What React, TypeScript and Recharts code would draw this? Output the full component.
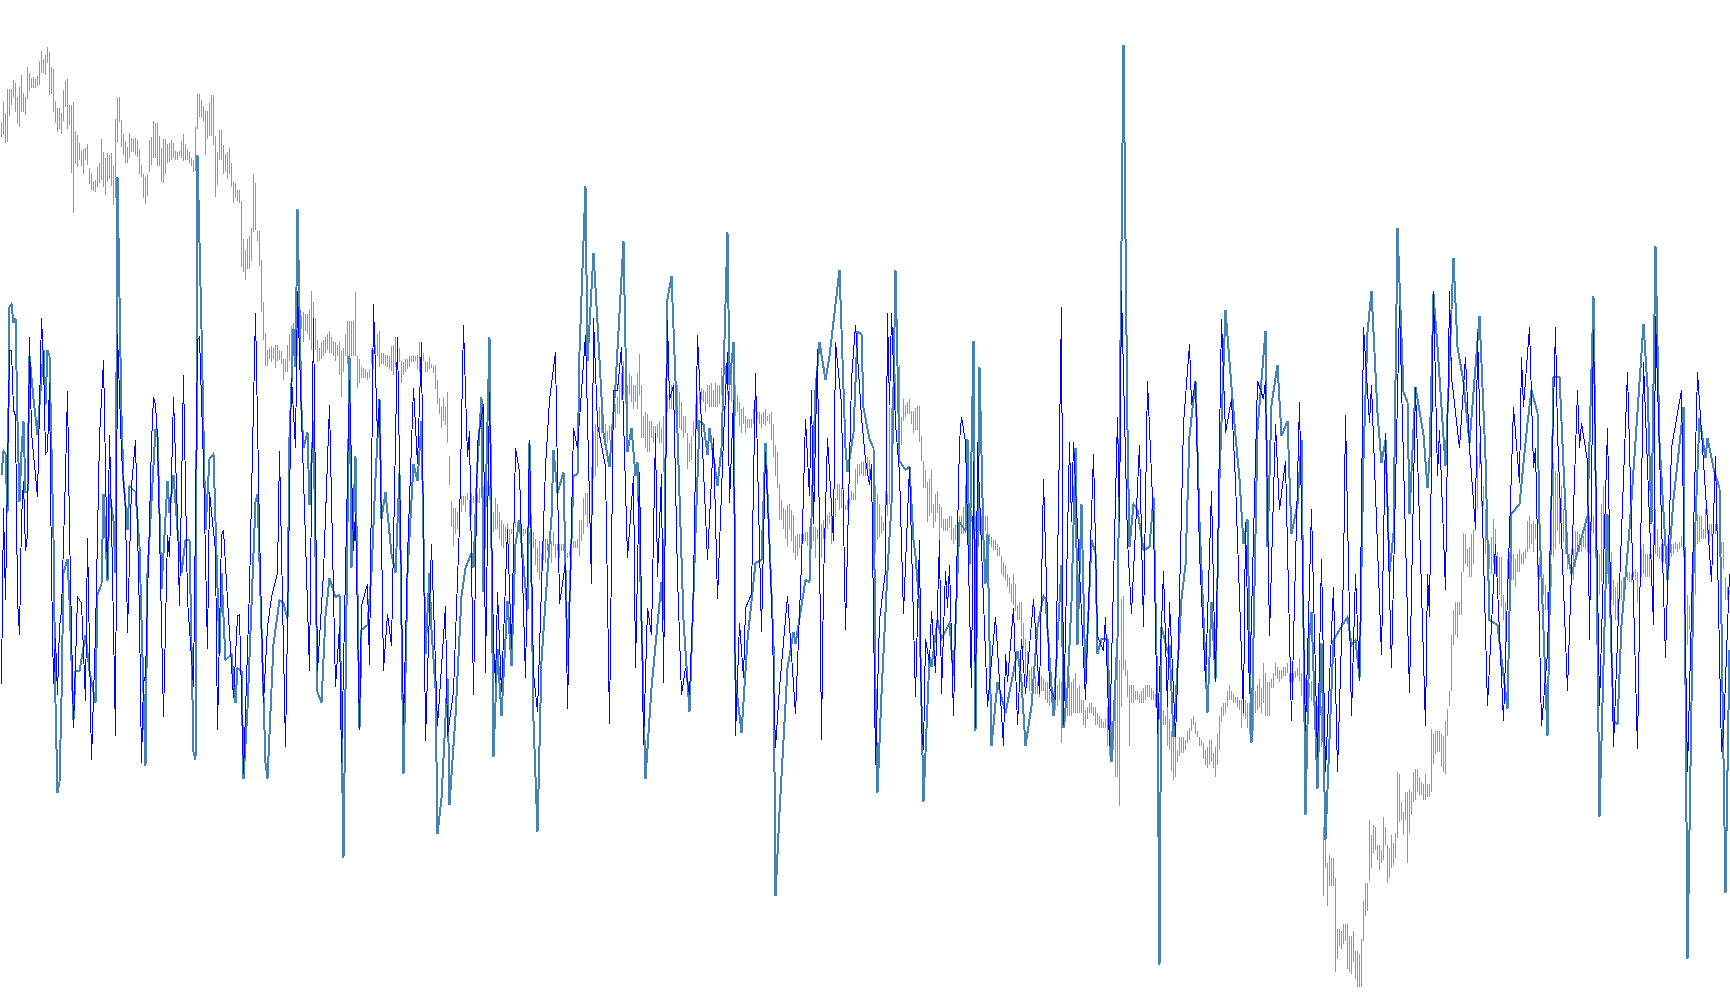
import { ComposedChart, Bar, Line, XAxis, YAxis } from 'recharts';

// green band: [high, low] for each sample, split by stretch of the chart
const bandA = [
  [883,868],[903,870],[892,862],[916,863],[916,889],[916,900],[925,908],[922,893],[908,881],[918,878],
  [930,893],[912,893],[908,890],[938,906],[932,914],[927,917],[928,917],[926,917],[929,919],[944,920],
  [954,932],[946,932],[950,930],[958,942],[953,910],[938,911],[936,893],[904,882],[897,873],[897,876],
  [892,871],[915,884],[924,898],[926,876],[900,880],[900,832],[903,792],[874,841],[870,838],[862,845],
  [854,839],[856,831],[857,845],[861,840],[837,821],[832,815],[824,814],[825,813],[838,818],[842,822],
  [866,825],[853,818],[847,810],[852,823],[850,826],[852,819],[839,800],[886,807],[907,862],[908,883],
  [885,858],[871,850],[864,842],[858,842],[872,847],[867,853],[866,853],[867,850],[865,848],[856,831],
  [840,828],[831,807],[828,801],[831,809],[865,833],[868,840],[884,847],[882,847],[882,839],[869,839],
  [857,823],[866,822],[866,831],[861,842],[862,843],[865,845],[862,847],[854,845],[853,845],[854,849],
  [864,847],[871,844],[861,845],[856,845],[853,842],[847,839],[845,833],[878,834],[911,876],[911,888],
  [905,887],[899,883],[894,850],[894,866],[902,869],[910,869],[910,860],[869,808],[853,820],[875,845],
  [875,845],[860,831],[851,833],[853,826],[857,831],[842,818],[823,802],[822,807],[815,804],[815,802],
  [804,738],[766,733],[755,725],[766,736],[769,736],[777,744],[831,773],[822,775],[774,764],[774,739],
  [745,693],[703,665],[672,639],[655,639],[657,646],[659,643],[657,646],[660,637],[660,644],[655,645],
  [654,641],[646,625],[646,633],[660,633],[671,644],[679,636],[682,649],[687,644],[687,649],[682,647],
  [690,676],[693,663],[691,674],[691,671],[695,665],[714,655],[703,671],[687,655],[665,643],[657,644],
  [663,646],[665,649],[668,652],[671,655],[674,652],[668,652],[664,649],[663,644],[660,649],[663,630],
  [655,608],[657,633],[671,649],[684,641],[684,646],[684,649],[684,649],[713,649],[649,617],[646,622],
  [638,627],[637,627],[636,627],[633,625],[636,627],[655,641],[655,636],[660,649],[671,649],[674,638],
  [652,641],[652,641],[650,639],[650,638],[649,636],[659,634],[660,630],[668,638],[660,644],[657,643],
  [644,622],[643,630],[646,633],[646,636],[649,638],[649,643],[650,643],[649,644],[650,636],[663,633],
  [652,646],[652,644],[644,633],[643,633],[648,636],
];
const bandB = [
  [641,637],[639,632],[640,616],[625,601],[607,591],[598,577],[607,584],[598,580],[613,562],[549,520],
  [504,478],[497,459],[497,471],[493,476],[481,469],[509,493],[509,500],[509,493],[512,505],[505,488],
  [512,490],[509,502],[509,497],[512,502],[517,502],[521,507],[519,509],[524,497],[524,509],[519,505],
  [514,476],[493,473],[507,476],[501,476],[493,466],[485,459],[481,457],[478,464],[482,464],[476,461],
  [476,471],[483,471],[483,478],[483,471],[485,471],[476,471],[476,469],[476,471],[476,471],[473,461],
  [473,457],[473,457],[466,440],[457,433],[464,425],[452,433],[464,445],[466,442],[466,454],[471,459],
  [464,442],[473,459],[461,447],[461,454],[461,447],[461,454],[461,454],[452,445],[452,447],[454,449],
  [454,445],[464,457],[464,457],[466,457],[485,449],[485,464],[507,471],[512,490],[512,478],[490,481],
  [538,471],[574,526],[581,529],[593,538],[598,567],[593,572],[591,572],[581,562],[574,562],[579,565],
  [581,572],[586,577],[601,577],[608,591],[620,591],[632,605],[644,610],[617,601],[620,603],[632,610],
  [629,603],[620,596],[620,603],[632,596],[651,610],[620,567],[589,567],[593,557],[591,553],[584,553],
  [584,567],[579,562],[579,567],[581,567],[584,562],[577,562],[589,533],[601,572],[610,593],[620,596],
  [620,596],[622,605],[622,591],[620,591],[613,577],[603,574],[589,567],[589,572],[572,536],[562,543],
  [569,545],[584,569],[601,572],[610,574],[622,601],[617,605],[615,603],[613,593],[620,601],[620,598],
  [622,598],[615,598],[622,598],[620,598],[620,601],[637,610],[629,605],[639,596],[632,610],[634,605],
  [632,603],[629,591],[620,589],[610,593],[603,579],[596,572],[598,581],[589,572],[586,577],[586,577],
  [586,577],[596,581],[632,593],[593,586],[593,581],[591,577],[593,581],[596,579],[589,584],[591,581],
  [593,565],[581,548],[560,529],[553,517],[521,485],[505,485],[497,476],[495,466],[500,459],[501,476],
  [495,464],[490,452],[469,445],[471,449],[471,457],[471,459],[471,464],[473,464],[473,459],[478,447],
  [476,464],[478,464],[478,447],[476,466],[478,461],[481,447],[485,466],[490,466],[490,476],[493,481],
  [500,461],[490,469],[507,488],[521,505],[521,495],[517,497],[517,488],[500,495],[505,495],[507,500],
  [514,505],[512,505],[536,505],[541,521],[541,529],[543,531],[543,529],[548,529],[548,529],[545,526],
];
const bandC = [
  [538,508],[535,465],[520,452],[511,465],[501,468],[489,471],[483,474],[514,477],[511,489],[597,501],
  [597,523],[615,563],[631,581],[634,591],[640,588],[588,560],[606,584],[600,588],[603,591],[606,591],
  [594,581],[594,572],[597,575],[599,575],[599,563],[569,544],[544,517],[535,517],[523,483],[526,489],
  [535,492],[501,477],[511,483],[514,492],[501,449],[498,477],[486,474],[486,474],[486,474],[489,477],
  [489,465],[477,461],[480,465],[489,477],[489,477],[489,471],[498,471],[498,474],[495,480],[501,477],
  [495,483],[495,477],[489,474],[501,483],[501,474],[489,465],[486,474],[489,474],[489,471],[471,461],
  [468,458],[465,455],[465,455],[461,449],[458,449],[449,431],[443,428],[440,425],[431,418],[428,412],
  [421,403],[431,400],[421,394],[400,385],[403,385],[403,369],[382,357],[366,329],[354,323],[335,314],
  [338,314],[332,311],[329,311],[323,311],[323,308],[329,314],[326,314],[323,305],[323,302],[320,299],
  [314,302],[314,305],[314,295],[320,299],[326,305],[323,262],[323,280],[323,283],[323,289],[329,289],
  [323,289],[326,292],[332,292],[317,292],[320,292],[305,292],[305,280],[295,277],[298,286],[302,292],
  [302,292],[298,289],[298,280],[292,280],[289,277],[286,277],[283,277],[286,277],[298,259],[274,249],
  [283,246],[271,255],[348,228],[348,228],[345,199],[406,298],[409,335],[345,329],[335,308],[320,259],
  [320,302],[320,302],[314,305],[314,305],[311,302],[314,302],[317,302],[320,305],[320,308],[320,308],
  [317,305],[314,305],[311,298],[305,292],[302,286],[298,283],[295,280],[289,280],[298,259],[286,255],
  [274,234],[271,225],[268,228],[255,243],[268,249],[268,252],[268,252],[265,255],[274,262],[277,265],
  [286,274],[289,280],[283,271],[274,268],[268,259],[265,259],[262,246],[255,240],[258,237],[265,240],
  [265,243],[252,237],[258,228],[271,240],[289,255],[298,283],[302,289],[302,292],[314,298],[320,305],
  [314,305],[311,302],[308,302],[308,298],[305,295],[305,277],[305,289],[305,286],[302,277],[302,271],
  [311,280],[317,274],[314,292],[320,295],[326,298],[317,292],[342,302],[332,289],[323,289],[323,289],
  [326,317],[332,317],[342,329],[338,326],[335,323],[335,326],[338,329],[338,329],[342,332],[332,323],
];
const bandD = [
  [332,322],[332,324],[334,327],[337,329],[347,324],[332,309],[332,304],[327,299],[319,299],[322,307],
  [324,304],[324,299],[299,269],[299,269],[294,264],[299,258],[178,109],[178,137],[142,99],[150,119],
  [147,119],[147,119],[127,33],[76,46],[76,59],[74,56],[81,61],[81,64],[81,36],[69,33],
  [69,31],[74,43],[54,26],[54,18],[51,18],[66,18],[104,64],[122,89],[122,94],[185,124],
  [170,137],[180,152],[178,155],[160,145],[160,135],[155,142],[188,145],[178,160],[160,122],[157,127],
  [170,137],[162,140],[172,147],[233,167],[231,183],[203,185],[193,170],[213,185],[213,142],[216,172],
  [213,190],[233,203],[236,205],[236,213],[228,210],[223,210],[221,205],[231,205],[221,208],[221,208],
  [276,213],[271,241],[274,251],[274,253],[274,253],[271,238],[269,233],[284,231],[296,269],[314,299],
  [370,314],[395,360],[403,370],[403,367],[403,390],[433,390],[472,433],[471,441],[456,438],[458,428],
  [471,428],[476,441],[502,474],[549,496],[562,537],[544,499],[519,499],[496,451],[471,433],[461,436],
  [468,431],[486,441],[476,431],[453,428],[448,410],[448,398],[410,385],[403,360],[446,395],[453,425],
  [453,425],[451,425],[446,418],[451,433],[456,433],[451,441],[453,441],[456,446],[484,453],[489,456],
  [481,461],[484,453],[481,466],[458,428],[448,425],[448,415],[431,410],[420,395],[413,395],[425,400],
  [441,418],[542,448],[534,456],[532,474],[529,461],[519,461],[496,463],[476,451],[451,436],[451,441],
  [456,431],[456,425],[474,438],[474,451],[471,453],[469,453],[469,458],[486,456],[486,453],[489,451],
  [506,474],[489,471],[481,456],[451,405],[451,410],[501,423],[519,423],[491,451],[489,431],[451,400],
  [453,405],[425,400],[418,385],[423,385],[425,403],[425,405],[428,415],[436,415],[433,425],[433,423],
  [431,423],[433,428],[436,425],[433,403],[418,400],[456,428],[461,431],[451,428],[451,428],[451,428],
  [451,428],[481,441],[496,451],[476,448],[458,446],[461,443],[461,443],[456,441],[461,441],[461,446],
  [461,448],[461,451],[463,456],[461,453],[463,456],[469,458],[471,448],[446,420],[410,360],[400,375],
  [431,400],[431,405],[471,410],[491,461],[489,463],[489,466],[476,466],[496,466],[496,471],[481,463],
  [481,469],[491,471],[481,471],[481,471],[481,471],[463,451],[463,436],[428,405],[418,405],[415,410],
];

// steelblue line: turning points as [sample, value]
const tealPoints = [
  [0,530],[1,554],[2,551],[3,492],[4,698],[5,701],[6,682],[7,687],[8,584],[9,503],[10,553],[11,584],[12,513],[13,513],
  [14,649],[16,606],[18,570],[19,600],[21,655],[22,600],[23,655],[24,649],[25,557],[26,467],[27,302],[28,212],[29,223],
  [30,307],[31,432],[33,446],[34,405],[36,285],[37,334],[39,334],[42,370],[44,334],[47,302],[48,410],[50,421],[51,511],
  [53,424],[54,511],[56,484],[57,432],[58,828],[60,589],[61,524],[63,475],[64,519],[67,513],[69,459],[72,239],[73,432],
  [77,576],[78,568],[80,416],[83,524],[84,492],[86,530],[88,475],[90,432],[92,465],[94,465],[96,253],[97,245],[98,850],
  [100,676],[102,475],[104,546],[106,551],[109,351],[110,432],[112,345],[115,351],[117,302],[118,337],[120,334],[121,226],
  [123,296],[127,503],[128,511],[132,242],[133,226],[136,361],[139,405],[141,402],[143,386],[144,568],[146,676],[147,638],
  [148,796],[150,595],[151,557],[153,573],[154,500],[156,584],[158,313],[160,302],[162,389],[164,427],[167,408],[169,410],
  [171,147],[174,649],[175,437],[177,549],[179,277],[180,375],[183,380],[185,432],[187,527],[189,606],[190,486],[192,513],
  [195,451],[197,432],[199,532],[201,231],[203,432],[206,541],[208,524],[210,584],[212,351],[214,432],
  [215,375],[217,317],[218,171],[220,207],[223,327],[224,200],[227,289],[230,409],[232,437],[235,452],[236,437],[238,543],
  [240,608],[241,413],[244,668],[246,248],[248,356],[250,289],[253,404],[255,339],[257,461],[259,485],[263,394],[264,562],
  [266,284],[268,173],[270,344],[273,433],[275,488],[276,555],[278,512],[281,533],[283,339],[286,529],[288,531],[289,653],
  [292,819],[293,644],[296,752],[298,682],[301,572],[304,538],[307,620],[311,764],[313,553],[315,577],[317,529],[318,543],
  [322,226],[325,317],[330,423],[331,385],[333,706],[335,729],[338,572],[341,385],[344,293],[347,471],[349,584],[351,581],
  [353,550],[354,577],[358,519],[360,557],[363,773],[364,620],[366,663],[367,325],[370,272],[373,365],[377,442],[380,445],
  [382,562],[386,361],[387,109],[389,193],[393,337],[396,373],[397,361],[402,425],[404,423],[407,615],[409,663],[412,625],
  [414,649],[419,735],[422,557],[423,533],[426,572],[428,673],
  [430,671],[431,597],[434,566],[436,557],[437,317],[438,212],[440,311],[443,434],[445,501],[447,735],[449,544],[452,535],
  [454,538],[456,465],[457,449],[459,397],[461,203],[462,252],[464,348],[465,338],[468,385],[470,366],[474,382],[476,329],
  [479,483],[482,474],[483,566],[484,440],[486,664],[487,274],[489,638],[491,465],[492,421],[493,471],[495,259],[498,323],
  [502,292],[505,323],[508,354],[510,323],[512,259],[515,299],[518,378],[521,409],[522,406],[526,289],[530,440],[531,277],
  [533,317],[535,403],[537,557],[538,360],[540,501],[542,323],[545,465],[547,452],[548,351],[550,366],[553,366],[555,243],
  [558,366],[561,960],[563,575],[564,458],[566,501],[568,495],[571,455],[574,458],[576,508],[578,298],[579,40],[580,378],
  [583,354],[584,360],[586,268],[590,406],[592,440],[594,569],[597,624],[599,483],[603,292],[605,403],[607,326],[609,526],
  [612,695],[614,643],[617,569],[619,526],[621,461],[623,486],[625,262],[628,575],[632,674],[633,458],[635,600],[638,640],
  [640,569],[643,584],
  [645,471],[648,501],[650,565],[652,190],[654,370],[655,393],[658,216],[660,362],[662,165],[666,365],[673,388],[675,360],
  [677,365],[679,327],[681,547],[683,673],[685,714],[688,592],[690,542],[692,565],[694,433],[696,471],[698,777],[701,613],
  [703,603],[704,491],[707,618],[711,570],[713,517],[714,547],[716,711],[718,658],[722,539],[726,747],[728,658],[731,623],
  [734,562],[739,689],[742,547],[744,385],[748,380],[753,296],[755,491],[759,501],[763,582],[765,615],[768,592],[769,481],
  [773,269],[776,628],[779,628],[783,451],[785,431],[793,489],[796,709],[799,188],[803,491],[806,284],[808,281],[810,380],
  [814,476],[821,681],[823,618],[825,481],[827,759],[829,562],[833,425],[836,506],[838,542],[841,598],[843,46],[846,431],
  [849,587],[852,547],[853,567],[856,537],[859,517],[862,112],[864,355],
];

// blue line: turning points as [sample, value]
const bluePoints = [
  [0,321],[1,497],[2,405],[4,655],[5,655],[6,595],[7,589],[8,405],[9,370],[10,486],[11,524],[12,454],[13,470],[14,668],
  [15,573],[16,551],[18,508],[20,687],[21,644],[22,551],[23,554],[24,622],[25,432],[26,321],[27,367],[28,310],[29,378],
  [30,394],[32,530],[33,614],[34,475],[36,277],[38,408],[40,402],[42,304],[43,467],[45,245],[47,372],[49,568],[51,645],
  [53,427],[54,570],[55,486],[57,269],[58,671],[60,551],[62,497],[63,372],[65,519],[67,565],[69,389],[70,242],[71,323],
  [72,329],[75,562],[76,608],[77,600],[78,568],[81,288],[83,470],[84,448],[86,608],[88,486],[89,399],[91,630],[93,405],
  [96,318],[98,665],[99,668],[101,541],[103,356],[104,513],[107,454],[108,275],[110,470],[111,475],[113,405],[116,307],
  [118,389],[119,390],[121,231],[124,416],[127,692],[129,475],[131,302],[133,378],[135,408],[138,432],[139,554],[142,258],
  [145,627],[147,557],[148,714],[150,589],[152,465],[154,334],[156,687],[158,334],[161,432],[164,600],[167,318],[169,378],
  [170,242],[174,625],[176,454],[177,492],[179,275],[180,399],[183,421],[184,340],[186,701],[188,568],[189,606],[191,334],
  [193,391],[195,359],[198,668],[201,280],[203,448],[206,617],[208,541],[210,663],[212,264],
  [215,461],[218,279],[219,308],[222,399],[223,269],[226,313],[229,481],[231,680],[233,548],[234,574],[236,310],[238,562],
  [241,601],[242,332],[244,613],[246,361],[247,322],[248,413],[250,313],[253,476],[255,356],[257,557],[259,533],[262,327],
  [264,565],[266,332],[268,293],[270,418],[272,538],[274,605],[277,653],[279,401],[282,442],[283,296],[286,577],[288,557],
  [292,670],[295,421],[296,687],[298,581],[302,538],[304,281],[306,615],[308,615],[310,658],[313,447],[316,529],[317,337],
  [319,533],[321,260],[323,397],[325,370],[327,572],[328,428],[330,531],[331,322],[333,685],[334,605],[336,620],[338,428],
  [340,310],[342,337],[344,310],[346,418],[348,670],[353,445],[356,567],[358,406],[361,567],[363,653],[364,502],[366,605],
  [367,269],[369,382],[371,327],[372,397],[375,411],[377,632],[380,373],[382,553],[385,406],[387,257],[389,317],[393,409],
  [397,291],[400,442],[402,586],[404,509],[405,615],[406,481],[408,656],[410,265],[411,423],[413,567],[416,464],[417,663],
  [420,601],[422,375],[425,625],[427,680],
  [430,588],[432,545],[434,520],[435,541],[437,240],[439,385],[442,434],[443,692],[444,600],[445,692],[447,581],[449,532],
  [451,391],[454,538],[457,308],[459,465],[460,277],[461,255],[462,366],[464,342],[465,394],[467,332],[469,465],[470,311],
  [472,434],[473,397],[474,440],[476,289],[479,563],[480,588],[482,563],[485,317],[486,544],[487,277],[488,563],[493,298],
  [497,388],[501,259],[502,351],[503,323],[506,397],[508,280],[510,366],[512,311],[516,406],[519,311],[521,526],[524,317],
  [527,305],[530,698],[531,280],[534,563],[535,483],[536,563],[541,348],[542,305],[546,551],[548,369],[551,354],[552,388],
  [554,259],[558,588],[559,483],[560,714],[563,465],[565,391],[569,560],[571,378],[573,624],[576,483],[578,271],[581,434],
  [583,298],[584,403],[587,268],[588,323],[591,581],[594,661],[595,600],[597,624],[599,452],[602,323],[605,514],[607,323],
  [610,686],[612,572],[615,606],[617,523],[621,292],[622,483],[624,311],[628,624],[631,606],[632,624],[634,369],[637,581],
  [639,495],[642,544],
  [645,284],[649,603],[652,274],[655,496],[658,248],[660,446],[662,233],[666,418],[668,233],[671,431],[672,590],[675,289],
  [677,431],[679,324],[681,678],[684,582],[685,620],[690,350],[692,572],[695,337],[699,699],[704,312],[707,618],[712,279],
  [713,431],[714,388],[716,714],[718,529],[719,575],[722,415],[724,714],[725,628],[729,557],[732,648],[734,557],[737,476],
  [738,673],[743,299],[747,461],[751,284],[756,598],[759,522],[760,648],[761,598],[764,678],[766,537],[767,557],[770,279],
  [773,352],[777,678],[778,572],[783,314],[788,615],[789,557],[790,582],[793,544],[794,365],[796,676],[799,299],[803,577],
  [806,258],[813,633],[818,256],[821,643],[826,380],[827,689],[832,347],[835,557],[840,615],[843,233],[848,633],[855,423],
  [857,549],[860,253],[861,271],[864,431],
];

const bandValues = [...bandA, ...bandB, ...bandC, ...bandD];

// the lines only have readings at their turning points, so they connect across the gaps
const rows = bandValues.map(([high, low], sample) => ({
  sample,
  band: [low, high],
  teal: null as number | null,
  blue: null as number | null,
}));
tealPoints.forEach(([s, v]) => { rows[s].teal = v; });
bluePoints.forEach(([s, v]) => { rows[s].blue = v; });

// keep each band stick on whole pixels, the reference has no anti-aliasing
const BandStick = ({ x, y, height }: any) => (
  <rect x={Math.round(x)} y={Math.round(y)} width={1} height={Math.max(1, Math.round(height))} fill="#00FF00" />
);

export default function App() {
  return (
    <div style={{ position: 'absolute', left: 0, top: 0, width: 1730, height: 1005, background: '#fff', shapeRendering: 'crispEdges' }}>
      <ComposedChart width={1730} height={1005} data={rows} margin={{ top: 0, right: 0, bottom: 0, left: 0 }}>
        <XAxis dataKey="sample" type="number" domain={[-0.75, 864.25]} hide />
        <YAxis domain={[0, 1005]} hide />
        <Bar dataKey="band" barSize={1} isAnimationActive={false} shape={<BandStick />} />
        <Line dataKey="teal" stroke="#4682B4" strokeWidth={2} dot={false} activeDot={false} connectNulls type="linear" isAnimationActive={false} />
        <Line dataKey="blue" stroke="#0000FF" strokeWidth={1} dot={false} activeDot={false} connectNulls type="linear" isAnimationActive={false} />
      </ComposedChart>
    </div>
  );
}
